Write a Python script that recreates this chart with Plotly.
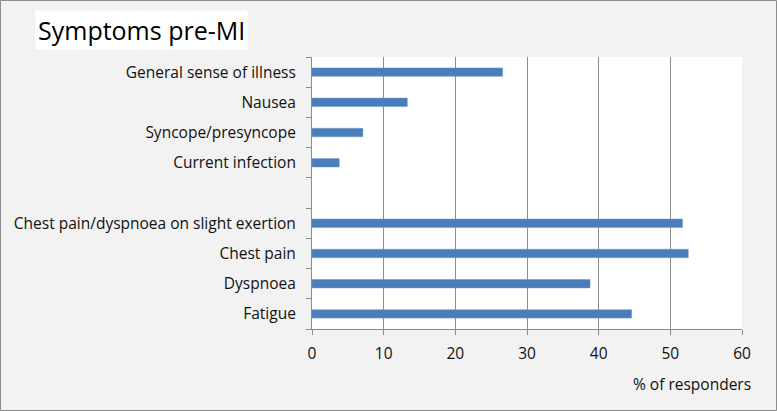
import plotly.graph_objects as go

categories = ["Fatigue", "Dyspnoea", "Chest pain", "Chest pain/dyspnoea on slight exertion", " ",
              "Current infection", "Syncope/presyncope", "Nausea", "General sense of illness"]
values = [44.6, 38.8, 52.5, 51.7, None, 3.8, 7.1, 13.3, 26.6]
x_ticks = [0, 10, 20, 30, 40, 50, 60]

W, H = 777, 411
L, R, T, B = 312, 35, 57, 82
pw, ph = W - L - R, H - T - B

FONT = "Open Sans"

fig = go.Figure(go.Bar(
    y=categories, x=values, orientation="h",
    marker=dict(color="#4a7ebb", line=dict(color="#6f97cc", width=0.5)),
    width=0.28,
))

fig.update_layout(
    width=W, height=H,
    margin=dict(l=L, r=R, t=T, b=B),
    paper_bgcolor="#f2f2f2", plot_bgcolor="#ffffff",
    font=dict(family=FONT, size=15.5, color="#111111"),
    showlegend=False,
    xaxis=dict(range=[0, 60], tickvals=x_ticks, showgrid=True, gridcolor="#8c8c8c", gridwidth=1,
               showline=True, linecolor="#8c8c8c", ticks="outside", ticklen=5, tickcolor="#8c8c8c",
               zeroline=False, tickfont=dict(size=15.5), ticklabelstandoff=5),
    yaxis=dict(type="category", categoryorder="array", categoryarray=categories,
               tickson="boundaries", ticks="outside", ticklen=5, tickcolor="#8c8c8c",
               showline=True, linecolor="#8c8c8c", showgrid=False, tickfont=dict(size=15.5),
               ticklabelstandoff=12),
    annotations=[
        dict(text="Symptoms pre-MI", x=(35 - L) / pw, y=1 + (T - 29.5) / ph, xref="paper", yref="paper",
             xanchor="left", yanchor="middle", showarrow=False, bgcolor="#ffffff",
             font=dict(size=25, color="#000000", family=FONT), borderpad=2),
        dict(text="% of responders", x=(753 - L) / pw, y=-(384 - (H - B)) / ph, xref="paper", yref="paper",
             xanchor="right", yanchor="middle", showarrow=False,
             font=dict(size=15.5, color="#111111", family=FONT)),
    ],
    shapes=[
        dict(type="rect", xref="paper", yref="paper",
             x0=(0.5 - L) / pw, x1=(W - 0.5 - L) / pw,
             y0=-(H - 0.5 - (H - B)) / ph, y1=1 + (T - 0.5) / ph,
             line=dict(color="#8c8c8c", width=1), layer="above"),
    ],
)

fig.write_html("out.html", config={"displayModeBar": False},
               post_script="document.body.style.margin='0';document.body.style.overflow='hidden';")
